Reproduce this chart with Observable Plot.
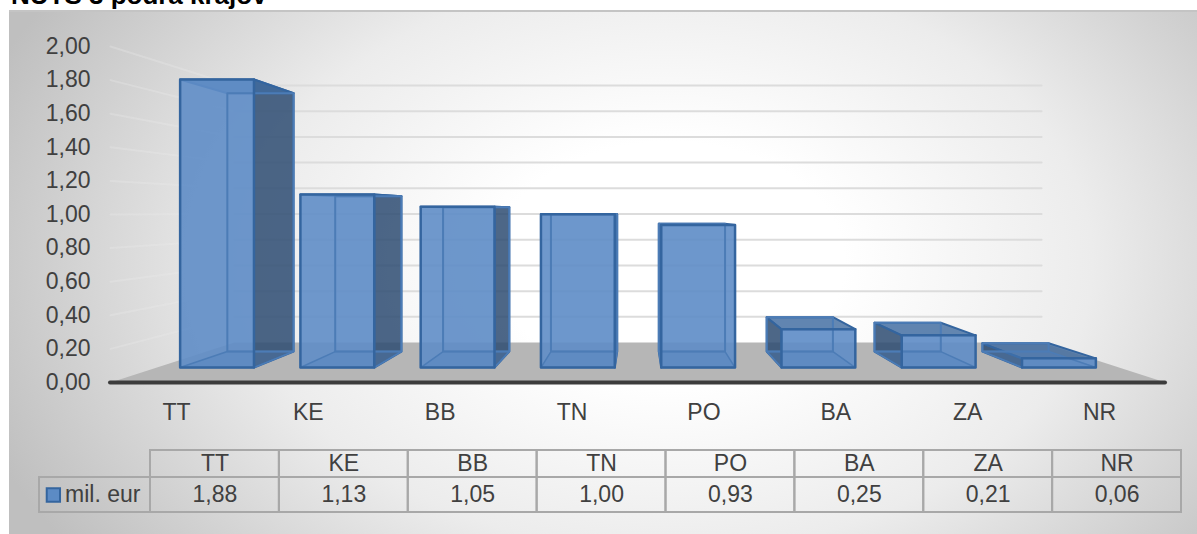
<!DOCTYPE html>
<html><head><meta charset="utf-8">
<script src="https://cdn.jsdelivr.net/npm/d3@7"></script>
<script src="https://cdn.jsdelivr.net/npm/@observablehq/plot@0.6"></script>
<style>
html,body{margin:0;padding:0;background:#fff;overflow:hidden}
#page{position:relative;width:1197px;height:534px;overflow:hidden;font-family:"Liberation Sans",Arial,sans-serif}
#bg{position:absolute;left:9px;top:10px;width:1188px;height:524px;border-top:2px solid #c4c4c4;box-sizing:border-box;
background:radial-gradient(ellipse 730px 500px at 660px 250px,#ffffff 0%,#ffffff 24%,#ececec 58%,#bfbfbf 100%)}
#title{position:absolute;left:11px;top:-20px;font-weight:bold;font-size:26px;color:#000;white-space:nowrap;line-height:30px}
#charts{position:absolute;left:0;top:0}
svg{display:block;background:transparent!important}
</style></head><body>
<div id="page"><div id="bg"></div><div id="title">NUTS 3 podľa krajov</div><div id="charts"></div></div>
<script>
const categories = ["TT","KE","BB","TN","PO","BA","ZA","NR"];
const values = [1.88,1.13,1.05,1.00,0.93,0.25,0.21,0.06];
const yTicks = [0,0.2,0.4,0.6,0.8,1.0,1.2,1.4,1.6,1.8,2.0];
const seriesName = "mil. eur";

const fmt = d => d.toFixed(2).replace(".", ",");
const idx = categories.map((_, i) => i);

// perspective of the 3D chart, in data units
const eye = {x: 3.5, y: 1.012};
const depth = {front: 0.912, rear: 0.818, wall: 0.765};
const half = 0.307;
const pt = (i, v, k) => ({x: eye.x + (i - eye.x) * k, y: eye.y + (v - eye.y) * k});

function face(id, corners) {
  return corners.map(([i, v, k]) => ({id, ...pt(i, v, k)}));
}
const faces = {rear: [], bottom: [], side: [], top: [], front: []};
idx.forEach(c => {
  const v = values[c], l = c - half, r = c + half, f = depth.front, b = depth.rear;
  faces.rear.push(...face(c + "r", [[l,0,b],[r,0,b],[r,v,b],[l,v,b],[l,0,b]]));
  faces.bottom.push(...face(c + "b", [[l,0,f],[r,0,f],[r,0,b],[l,0,b],[l,0,f]]));
  const s = c < eye.x ? r : l;
  faces.side.push(...face(c + "s", [[s,0,f],[s,0,b],[s,v,b],[s,v,f],[s,0,f]]));
  faces.top.push(...face(c + "t", [[l,v,f],[r,v,f],[r,v,b],[l,v,b],[l,v,f]]));
  faces.front.push(...face(c + "f", [[l,0,f],[r,0,f],[r,v,f],[l,v,f],[l,0,f]]));
});
const wallL = -0.5, wallR = 7.5;
const floor = face("floor", [[wallL,0,1],[wallR,0,1],[wallR,0,depth.wall],[wallL,0,depth.wall],[wallL,0,1]]);
const backGrid = yTicks.filter(t => t > 0).flatMap(t => face("g" + t, [[wallL,t,depth.wall],[wallR,t,depth.wall]]));
const sideGrid = yTicks.filter(t => t > 0).flatMap(t => face("s" + t, [[wallL,t,1],[wallL,t,depth.wall]]));

const L = o => ({x: "x", y: "y", z: "id", ...o});
const blue = "#34659f";
const inner = "#4c7cb6";

const main = Plot.plot({
  width: 1197, height: 434,
  marginLeft: 110, marginRight: 32, marginTop: 46, marginBottom: 52,
  x: {type: "linear", domain: [-0.5, 7.5], range: [110, 1165]},
  y: {type: "linear", domain: [0, 2], range: [382, 46]},
  style: {background: "transparent", fontFamily: '"Liberation Sans",Arial,sans-serif'},
  marks: [
    Plot.line(sideGrid, L({stroke: "#ececec", strokeWidth: 2, strokeOpacity: 0.3})),
    Plot.line(backGrid, L({stroke: "#dcdcdc", strokeWidth: 2})),
    Plot.line(floor, L({fill: "#b6b6b6", stroke: "none"})),
    Plot.ruleY([0], {x1: wallL, x2: wallR, stroke: "#3c3c3c", strokeWidth: 4, strokeLinecap: "round"}),
    Plot.line(faces.rear, L({fill: "#6f9ad0", fillOpacity: 0.15, stroke: "none"})),
    Plot.line(faces.side, L({fill: "#2c4a70", fillOpacity: 0.83, stroke: blue, strokeWidth: 2})),
    Plot.line(faces.top, L({fill: "#3f6a9f", fillOpacity: 0.8, stroke: blue, strokeWidth: 2})),
    Plot.line(faces.front, L({fill: "#5f8dc6", fillOpacity: 0.9, stroke: "none"})),
    Plot.line(faces.bottom, L({fill: "#4f81bd", fillOpacity: 0.35, stroke: inner, strokeWidth: 1.5})),
    Plot.line(faces.rear, L({stroke: inner, strokeWidth: 2})),
    Plot.line(faces.front, L({stroke: blue, strokeWidth: 2.5})),
    Plot.axisY({ticks: yTicks, tickFormat: fmt, tickSize: 0, tickPadding: 20, fontSize: 23, color: "#404040", label: null}),
    Plot.axisX({ticks: idx, tickFormat: i => categories[i], tickSize: 0, tickPadding: 21, fontSize: 23, color: "#404040", label: null})
  ]
});

// data table under the chart
const cols = idx.map(i => ({i, name: categories[i], value: fmt(values[i])}));
const table = Plot.plot({
  width: 1197, height: 100,
  margin: 0,
  x: {type: "linear", axis: null, domain: [-1, 0, 8], range: [39, 150, 1181]},
  y: {type: "linear", axis: null, domain: [0, 1, 2], range: [16, 43, 78]},
  style: {background: "transparent", fontFamily: '"Liberation Sans",Arial,sans-serif'},
  marks: [
    Plot.rect(cols, {x1: "i", x2: d => d.i + 1, y1: 0, y2: 1, stroke: "#a8a8a8", strokeWidth: 2, fill: "none"}),
    Plot.rect(cols, {x1: "i", x2: d => d.i + 1, y1: 1, y2: 2, stroke: "#a8a8a8", strokeWidth: 2, fill: "none"}),
    Plot.rect([seriesName], {x1: -1, x2: 0, y1: 1, y2: 2, stroke: "#a8a8a8", strokeWidth: 2, fill: "none"}),
    Plot.text(cols, {x: d => d.i + 0.5, y: 0.5, text: "name", fontSize: 23, fill: "#404040", dy: 0}),
    Plot.text(cols, {x: d => d.i + 0.5, y: 1.5, text: "value", fontSize: 23, fill: "#404040", dy: 0}),
    Plot.dot([seriesName], {x: -0.875, y: 1.5, symbol: "square", r: 7.5, fill: "#5c8bc5", stroke: blue, strokeWidth: 2}),
    Plot.text([seriesName], {x: -0.77, y: 1.5, text: d => d, textAnchor: "start", fontSize: 23, fill: "#404040"})
  ]
});
document.getElementById("charts").append(main, table);
</script>
</body></html>
